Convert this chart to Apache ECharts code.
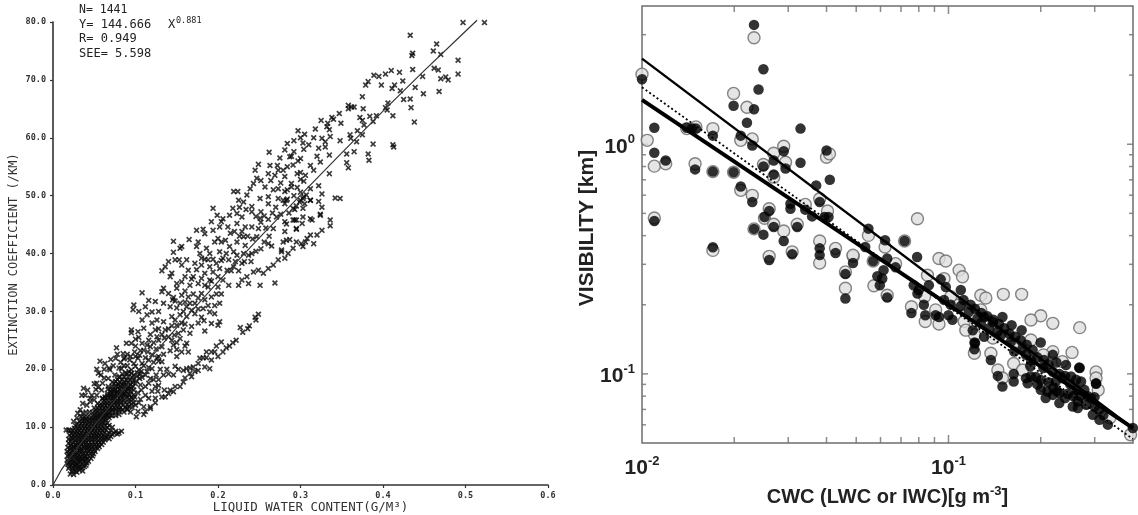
<!DOCTYPE html>
<html><head><meta charset="utf-8">
<style>html,body{margin:0;padding:0;background:#fff}#c{width:1138px;height:515px;filter:blur(0.35px)}</style>
<script src="https://cdn.jsdelivr.net/npm/echarts@6/dist/echarts.min.js"></script>
</head><body><div id="c"></div>
<script>
// ---------- left panel: extinction coefficient vs liquid water content ----------
const xTicksLeft = [0,0.1,0.2,0.3,0.4,0.5,0.6];
const fitLine = [[0,0],[0.005,1.3],[0.01,2.6],[0.02,4.6],[0.05,10.3],[0.1,19],[0.15,27.2],[0.2,35.1],[0.25,42.7],[0.3,50.1],[0.35,57.4],[0.4,64.6],[0.45,71.6],[0.5,78.4],[0.514,80.3]];
const crossUpper = [[.497,79.9],[.523,79.9],[.433,77.7],[.465,76.2],[.461,75],[.470,74.4],[.435,74.2],[.436,74.6],[.491,73.4],[.436,71.8],[.462,72],[.467,71.7],[.448,70.6],[.491,71],[.470,70.2],[.476,70.5],[.479,70],[.420,71.3],[.410,71.6],[.403,71],[.389,70.8],[.395,70.6],[.424,69.8],[.414,69.1],[.382,69.7],[.379,69.1],[.398,69.1],[.411,68.5],[.421,68.1],[.439,68.7],[.449,67.6],[.468,68],[.375,67.1],[.425,66.6],[.433,66.7],[.434,65.2],[.438,62.7],[.406,66],[.403,65.2],[.405,64.8],[.358,65.6],[.362,65.3],[.365,65.3],[.358,65],[.376,65],[.412,63.8],[.392,63.8],[.384,63.7],[.372,63.5],[.375,63],[.377,62.2],[.388,62.8],[.347,64.2],[.338,63.5],[.340,63.2],[.325,63],[.333,62.5],[.349,62.5],[.332,61.9],[.335,61.4],[.297,61.2],[.305,60.6],[.369,61.2],[.375,60.5],[.360,60.5],[.361,59.9],[.368,59.3],[.388,58.9],[.412,58.8],[.413,58.4],[.336,60.2],[.326,59.9],[.330,59.3],[.348,59.5],[.292,59.5],[.303,59.1],[.310,58.8],[.330,58.4],[.322,58.2],[.304,58],[.281,57.9],[.382,57.2],[.356,57.2],[.365,57.6],[.335,57],[.320,56.8],[.289,56.8],[.383,56.1],[.324,55.8],[.297,56],[.356,55.7],[.358,54.8],[.312,55.2],[.316,54.4],[.335,53.8],[.300,54],[.300,52.8],[.304,52.5],[.322,51.7],[.289,51.5],[.312,51.2],[.326,50.3],[.304,49.8],[.300,49.2],[.312,49.2],[.322,49],[.342,49.6],[.348,49.5],[.283,49.2],[.326,48],[.293,47.6],[.324,46.8],[.303,46.3],[.312,46],[.336,45.8],[.336,44.8],[.293,45.8],[.281,45.5],[.295,44.2],[.302,45.2]];
const crossBand = [[.262,57.5],[.275,56.5],[.287,56.7],[.300,56.4],[.263,55.2],[.249,55.4],[.245,54.4],[.273,54.4],[.279,54.4],[.291,55.3],[.261,53.8],[.269,53.5],[.281,53.3],[.289,52.1],[.247,53],[.243,52.1],[.239,51.2],[.257,51.5],[.267,51],[.273,51.2],[.219,50.7],[.224,50.7],[.235,50.1],[.281,50.7],[.225,49.2],[.231,48.9],[.251,49.5],[.261,49.8],[.261,48.6],[.273,49.5],[.279,49.2],[.281,48.6],[.241,48.1],[.194,47.8],[.252,47.2],[.241,47.2],[.199,46.6],[.223,46.9],[.229,46.3],[.251,46.1],[.271,46.3],[.261,45.9],[.192,45.5],[.204,45.5],[.223,45.2],[.233,44.6],[.241,44.6],[.249,44.3],[.194,44],[.202,44.6],[.174,44],[.182,44.2],[.184,43.4],[.229,43.8],[.267,44.3],[.281,43.8],[.283,45.1],[.295,44.3],[.231,42.9],[.247,42.9],[.215,43.5],[.200,42.6],[.204,42],[.209,42.3],[.196,42],[.146,42.1],[.165,42.4],[.156,41.2],[.154,40.9],[.146,40.2],[.176,42],[.174,41.2],[.223,42],[.233,41.4],[.261,41.7],[.265,41.3],[.279,42],[.287,42.4],[.186,40.9],[.190,40],[.202,40.3],[.178,40],[.180,39.2],[.219,40.3],[.223,39.7],[.231,40],[.237,39.7],[.241,40],[.277,40.6],[.148,38.9],[.140,38.6],[.153,38.9],[.162,38.9],[.172,38.3],[.188,38.9],[.206,39.2],[.213,38.9],[.221,38.6],[.229,38.3],[.136,37.7],[.132,37],[.144,36.6],[.142,36],[.156,38],[.164,37.1],[.180,38],[.190,37.7],[.198,38.3],[.202,37.4],[.219,37.7],[.184,36.6],[.194,36.8],[.170,36],[.180,35.7],[.190,35.4],[.200,36],[.211,37.1],[.206,35.4],[.150,34.8],[.156,35.1],[.134,34],[.184,34.5],[.213,34.5],[.166,34.5],[.176,34.8],[.303,49.5],[.299,48.9],[.307,50.1],[.312,49.2],[.305,48.6],[.303,47.8],[.295,48.2],[.291,47.8],[.295,45.8],[.314,45.8],[.324,46.6],[.291,45.8],
[.108,33.2],[.098,31.1],[.097,30.3],[.124,31.7],[.116,31.9],[.112,30.8],[.120,29.9],[.114,29.4],[.132,33.4],[.140,33.1],[.150,34],[.156,32.8],[.164,32.5],[.134,31.4],[.142,30.8],[.154,31.4],[.162,30.8],[.172,31.4],[.180,33.1],[.188,34.2],[.200,34.2],[.192,32.5],[.182,30.5],[.190,29.9],[.202,31.4],[.196,29.6],[.183,28.4],[.192,27.9],[.202,28.2],[.184,26.6],[.200,27.6],[.172,29.6],[.162,29.1],[.154,29.4],[.144,29.1],[.134,28.2],[.126,28.5],[.110,27.1],[.095,26.8],[.095,26.3],[.103,26.5],[.124,26.8],[.136,26.8],[.150,27.6],[.158,26.8],[.166,26.2],[.116,25],[.126,25.6],[.144,25],[.154,25.3],[.162,24.5],[.089,24.5],[.095,24.5],[.077,23.7],[.085,22.7],[.090,22.6],[.099,23],[.110,23.3],[.118,23.9],[.132,23.9],[.142,23.2],[.156,23],[.057,21.4],[.063,21],[.076,21.9],[.073,20.6],[.093,21.6],[.103,21.9],[.116,21.6],[.128,22.2],[.132,21.3],[.053,20],[.055,19.3],[.069,19.9],[.083,20.1],[.095,19.9],[.107,19.6],[.120,20.1],[.130,20],[.067,18.4],[.081,18.7],[.093,18.1],[.105,18.4],[.116,17.6],[.124,17],[.053,17.6],[.055,16.9],[.037,16.7],[.039,15.5],[.035,15.5],[.047,15.5],[.053,15.5],[.033,13],[.036,14.1],[.041,13.8],[.045,14.4],[.059,16.4],[.067,17],[.079,17],[.095,16.7],[.107,16.4],[.063,15.2],[.073,15.2],[.085,15.5],[.099,15.2],[.112,15.5],[.101,11.8],[.103,12.7],[.112,12.7],[.118,13.5],[.110,13.5],
[.075,19],[.088,19.4],[.100,20.5],[.112,19],[.125,19],[.072,17.8],[.086,17.4],[.100,17.5],[.112,17],[.078,16],[.090,16.4],[.103,15.9],[.070,16],[.060,17.6],[.062,18.5],[.070,21.7],[.082,21.2],[.090,20.6],[.098,21],[.108,21],[.120,22.5],[.125,23.5],[.108,24.5],[.135,25.4],[.147,25.9],[.140,27],[.128,30],[.145,32],[.160,33.5],[.170,33],[.105,22.4],[.115,23]];
const crossExtra = [[.080,20.2],[.086,20.6],[.092,19.6],[.098,19],[.104,19.9],[.110,20.6],[.116,20.3],[.122,21.2],[.128,21.4],[.134,22.6],[.126,22],[.112,22],[.100,22.2],[.094,22.2],[.086,21.8],[.100,24],[.106,23.2],[.114,24.2],[.122,24.6],[.128,25],[.132,26],[.140,25.6],[.146,24.2],[.150,24.6],[.152,26.2],[.118,26],[.128,27],[.144,27.5],[.148,28.5],[.156,28],[.160,27.8],[.168,27.4],[.176,28],[.180,29],[.168,30.2],[.176,30.4],[.158,30],[.150,30.6],[.148,31.8],[.160,31.6],[.166,31.4],[.184,32],[.188,31],[.196,31],[.204,33],[.198,33],[.176,32.3],[.192,35.2],[.168,35.6],[.160,36],[.174,37.2],[.184,39],[.194,39],[.204,38.8],[.210,40],[.214,41.2],[.216,37],[.225,37],[.232,38.6],[.240,38.6],[.246,40.4],[.252,40.8],[.256,42],[.262,43],[.258,44.4],[.252,45.4],[.242,42.5],[.236,43],[.226,43],[.220,43.8],[.212,44.6],[.206,46],[.214,46.6],[.218,47.8],[.226,48],[.234,47.6],[.246,46.4],[.256,46.5],[.266,47],[.270,48],[.276,46.8],[.286,47],[.284,49.4],[.292,50],[.300,50.6],[.296,51.4],[.284,51],[.276,52.2],[.264,52.6],[.252,52.6],[.272,55.2],[.284,55],[.296,53.8],[.306,53.5],[.292,57.6],[.284,59],[.300,60],[.316,60],[.318,61.5],
[.090,13],[.096,13.4],[.100,13.8],[.104,14.2],[.106,14.8],[.116,15],[.120,16.2],[.106,17.3],[.118,18.4],[.122,18.2],[.128,18.2],[.134,19],[.138,20],[.140,19.2],[.152,20],[.110,12.2],[.094,12.6],[.158,19.8],[.166,20.2],[.176,19.8],[.186,22],[.192,23],[.198,24],[.214,24],[.218,24.6],[.222,25],[.230,26.4],[.238,27.5],[.127,16.2],[.135,16.4],[.128,17.2],[.146,32.4],[.160,24],[.150,22.2],[.150,23.4],[.164,23],[.120,28],[.104,30],[.108,28.5],[.104,25.5],[.100,25.2],[.087,22],[.078,22.6],[.068,20.2],[.062,20],[.058,19],[.060,15],[.050,14.7],[.052,16.5],[.045,15],[.050,17.5],[.042,16.4],[.029,11.6],[.025,11],[.030,12.4],[.044,12.6],[.040,12.6],[.036,12.4]];
const crossFill = [[.023,2.3],[.027,2.4],[.031,3],[.035,2.9],[.020,3.2],[.024,3],[.028,3.5],[.032,3.2],[.036,3.6],[.040,3.4],[.019,3.9],[.023,3.8],[.027,3.7],[.031,4.1],[.035,4.4],[.039,4.3],[.043,4.1],[.020,4.5],[.024,4.4],[.028,4.6],[.032,4.5],[.036,4.5],[.040,4.9],[.044,5],[.048,5],[.019,5.3],[.023,5.2],[.027,5.3],[.031,5.2],[.035,5.2],[.039,5.1],[.043,5.9],[.047,5.8],[.051,5.8],[.020,6.1],[.024,6],[.028,6],[.032,6],[.036,5.9],[.040,5.9],[.044,6.6],[.048,6.6],[.052,6.6],[.056,6.6],[.021,6.8],[.025,6.7],[.029,6.8],[.033,6.6],[.037,6.7],[.041,6.7],[.045,7.4],[.049,7.4],[.053,7.4],[.057,7.4],[.061,7.4],[.021,7.6],[.025,7.4],[.029,7.4],[.033,7.4],[.037,7.4],[.041,7.4],[.065,8.2],[.070,8.4],[.020,8.6],[.023,8.3],[.027,8.2],[.031,8.3],[.035,8.2],[.039,8.2],[.043,8.2],[.047,8.2],[.051,8.3],[.055,8.3],[.059,8.2],[.063,8.2],[.022,8.9],[.026,9],[.030,9],[.034,9],[.038,8.9],[.042,9],[.046,9],[.050,9],[.054,9],[.058,9],[.062,9],[.068,9],[.074,9],[.080,9],[.026,9.8],[.030,9.7],[.034,9.8],[.038,9.8],[.042,9.7],[.046,9.8],[.050,9.7],[.054,9.8],[.058,9.7],[.062,9.8],[.066,9.9],[.072,10],[.030,10.6],[.034,10.6],[.038,10.6],[.042,10.5],[.046,10.6],[.050,10.5],[.054,10.6],[.058,10.5],[.062,10.7],[.066,10.7],[.036,11.4],[.040,11.4],[.044,11.3],[.048,11.4],[.052,11.4],[.056,11.4],[.060,11.4],[.064,11.6],[.068,11.6],[.072,12],[.076,12],[.080,12.2],[.050,12.1],[.054,12.1],[.058,12.1],[.062,12.1],[.066,12.2],[.052,12.9],[.056,12.9],[.060,12.9],[.064,12.9],[.068,13],[.072,13],[.076,13],[.080,13.1],[.084,13],[.090,13.2],[.056,13.7],[.060,13.7],[.064,13.7],[.068,13.7],[.072,13.8],[.076,13.8],[.080,13.8],[.085,13.8],[.090,13.9],[.095,14],[.062,14.5],[.066,14.5],[.070,14.6],[.074,14.6],[.078,14.6],[.082,14.6],[.086,14.7],[.092,14.8],[.097,14.8],[.066,15.4],[.070,15.4],[.074,15.4],[.078,15.4],[.082,15.5],[.088,15.5],[.093,15.5],[.098,15.6],[.070,16.2],[.074,16.2],[.078,16.2],[.084,16.2],[.088,16.2],[.094,16.2],[.098,16.4],[.072,17],[.076,17],[.082,17],[.087,17],[.092,17],[.097,17],[.076,17.9],[.081,17.8],[.086,17.8],[.091,17.7],[.096,17.7],[.101,18],[.080,18.6],[.086,18.7],[.091,18.7],[.096,18.6],[.102,18.8],[.108,18.6],[.084,19.2],[.090,19.2],[.095,19.3],[.102,19.4],[.106,19.2],[.114,19.6]];
const crossLowerArm = [[.326,44],[.320,43.2],[.312,43.2],[.308,42.6],[.301,41.7],[.295,42],[.303,41.2],[.291,40.9],[.285,40],[.277,40.3],[.281,39.2],[.273,38.9],[.267,38],[.261,37.4],[.255,36.6],[.249,37.1],[.243,36.8],[.235,36],[.229,35.4],[.225,34.5],[.237,34.8],[.251,34.5],[.269,34.9],[.316,41.7],[.306,42],[.283,42.3],
[.204,24.7],[.206,23],[.196,23],[.200,22.2],[.192,21.6],[.186,23],[.178,21.9],[.190,20.1],[.184,20.4],[.176,21],[.170,20.4],[.162,20.1],[.168,18.7],[.166,19.3],[.158,17.8],[.148,20.5],[.146,19],[.148,17],[.142,16.4],[.154,17],[.146,16.1],[.136,15.2],[.132,15.2],[.124,15],[.118,13.2],[.124,14.2],[.140,15.8],[.160,18.5],[.172,19.6],[.182,22],[.210,23.7],[.246,28.5],[.249,29.5],[.236,27],[.227,27.2],[.245,29]];
const crossBlob = [[.021,1.9],[.025,1.8],[.029,2.2],[.019,2.9],[.024,2.6],[.028,2.9],[.032,2.6],[.036,2.4],[.018,3.6],[.022,3.4],[.026,3.3],[.030,3.6],[.034,3.3],[.038,3.2],[.017,4.3],[.021,4.1],[.025,4],[.029,4.3],[.033,4],[.037,4.1],[.041,3.8],[.018,5],[.022,4.8],[.026,5],[.030,4.8],[.034,4.9],[.038,4.8],[.042,4.5],[.046,4.6],[.017,5.8],[.021,5.5],[.025,5.7],[.029,5.5],[.033,5.7],[.037,5.5],[.041,5.5],[.045,5.5],[.049,5.4],[.018,6.5],[.022,6.3],[.026,6.5],[.030,6.4],[.034,6.2],[.038,6.5],[.042,6.3],[.046,6.2],[.050,6.1],[.054,6.3],[.019,7.2],[.023,7],[.027,6.9],[.031,7.2],[.035,7],[.039,7.1],[.043,6.9],[.047,6.9],[.051,7],[.055,6.9],[.059,7],[.019,7.9],[.023,8],[.027,7.7],[.031,7.9],[.035,7.8],[.039,7.7],[.043,7.8],[.047,7.8],[.051,7.9],[.055,7.7],[.059,7.8],[.063,7.8],[.068,8],[.016,9.5],[.021,9.4],[.025,8.6],[.029,8.6],[.033,8.7],[.037,8.5],[.041,8.6],[.045,8.6],[.049,8.6],[.053,8.5],[.057,8.6],[.061,8.6],[.066,8.7],[.072,8.7],[.078,8.8],[.083,9.3],[.019,9.5],[.024,9.4],[.028,9.3],[.032,9.4],[.036,9.4],[.040,9.3],[.044,9.4],[.048,9.4],[.052,9.3],[.056,9.4],[.060,9.4],[.064,9.5],[.070,9.4],[.076,9.3],[.027,10.3],[.031,10.1],[.035,10.2],[.039,10.2],[.043,10.1],[.047,10.2],[.051,10.1],[.055,10.2],[.059,10.1],[.063,10.3],[.068,10.3],[.032,11],[.036,11],[.040,11],[.044,10.9],[.048,11],[.052,11],[.056,11],[.060,10.9],[.064,11.2],[.034,11.8],[.038,11.7],[.042,11.8],[.046,11.7],[.050,11.7],[.054,11.7],[.058,11.8],[.062,11.8],[.066,11.9],[.070,12],[.048,12.5],[.052,12.5],[.056,12.4],[.060,12.5],[.064,12.5],[.068,12.6],[.072,12.7],[.076,12.5],[.080,12.7],[.086,12.6],[.050,13.3],[.054,13.3],[.058,13.3],[.062,13.3],[.066,13.3],[.070,13.4],[.074,13.3],[.078,13.5],[.082,13.4],[.088,13.4],[.092,13.6],[.054,14.1],[.058,14],[.062,14.1],[.066,14.1],[.070,14.1],[.074,14.2],[.078,14.2],[.082,14.2],[.087,14.3],[.092,14.4],[.098,14.2],[.060,14.9],[.064,15],[.068,15.2],[.072,15],[.076,15],[.080,15],[.084,15.1],[.090,15.2],[.095,15.1],[.066,15.8],[.070,15.7],[.074,15.8],[.079,15.7],[.083,15.9],[.087,15.8],[.092,15.7],[.067,16.6],[.072,16.6],[.076,16.5],[.081,16.5],[.086,16.6],[.091,16.6],[.074,17.5],[.079,17.4],[.084,17.3],[.089,17.2],[.094,17.3],[.078,18.2],[.084,18.2],[.089,18.1],[.097,18.2]];
const xTicksRightMinor = [.02,.03,.04,.05,.06,.07,.08,.09,.2,.3];
const yTicksRightMinor = [.06,.07,.08,.09,.2,.3,.4,.5,.6,.7,.8,.9,2,3];
const yTicksRightMajor = [.1,1];
const xTicksRightMajor = [.1];
// ---------- right panel: visibility vs cloud water content ----------
const lineUpper = [[.01,2.36],[.4,.058]];
const lineLower = [[.01,1.56],[.4,.058]];
const lineDotted = [[.01,1.77],[.4,.052]];
const grayPoints = [[.0232,2.91],[.01,2.02],[.0199,1.665],[.022,1.45],[.0104,1.04],[.01097,.803],[.01195,.822],[.01097,.477],[.015,1.19],[.014,1.17],[.01703,1.17],[.0149,.822],[.01703,.76],[.0199,.755],[.021,1.04],[.0229,1.055],[.029,.98],[.0269,.914],[.0249,.816],[.0294,.835],[.04,.878],[.0409,.908],[.0269,.719],[.021,.63],[.0229,.599],[.026,.524],[.0251,.476],[.0232,.428],[.0269,.448],[.029,.419],[.0321,.448],[.0341,.547],[.038,.579],[.0403,.512],[.038,.379],[.038,.304],[.0428,.352],[.0309,.34],[.026,.325],[.01703,.345],[.0489,.325],[.0488,.329],[.0461,.278],[.0461,.236],
[.0792,.474],[.0719,.379],[.0548,.401],[.0621,.357],[.0931,.318],[.098,.31],[.1083,.283],[.1111,.265],[.1275,.22],[.1324,.214],[.151,.222],[.1733,.222],[.0568,.31],[.0672,.302],[.0571,.242],[.0631,.22],[.0757,.196],[.084,.169],[.0931,.165],[.0836,.217],[.0908,.19],[.0854,.269],[.0967,.26],[.1017,.217],[.1083,.2],[.1125,.169],[.1216,.148],[.1215,.123],[.2,.179],[.219,.166],[.268,.159],[.253,.124],[.303,.102],[.303,.096],[.308,.085],[.1375,.123],[.1449,.104],[.15,.096],[.1632,.111],[.1745,.104],[.219,.125],[.3363,.0644],[.3926,.0543],[.1858,.1405],[.204,.121],[.2352,.1131],[.204,.0888],[.2142,.0866],[.2642,.0797],[.2847,.0748],[.1275,.19],[.1139,.155],[.1396,.1434],[.154,.1455],[.166,.1337],[.1858,.1716]];
const blackPoints = [[.0232,3.31],[.0249,2.12],[.024,1.73],[.01,1.92],[.0199,1.47],[.0232,1.42],[.022,1.24],[.01097,1.18],[.01097,.918],[.01195,.85],[.01097,.463],[.014,1.18],[.01454,1.17],[.015,1.17],[.01703,1.09],[.0149,.777],[.01703,.76],[.0199,.755],[.021,1.09],[.0229,.987],[.0329,1.17],[.029,.932],[.0269,.85],[.0249,.8],[.0294,.784],[.0329,.83],[.04,.939],[.037,.662],[.041,.7],[.0269,.739],[.021,.655],[.0229,.56],[.026,.512],[.0251,.482],[.0232,.428],[.0269,.436],[.0249,.404],[.029,.379],[.0321,.436],[.0305,.551],[.0305,.524],[.0341,.519],[.0359,.485],[.038,.56],[.0394,.482],[.0406,.482],[.038,.352],[.038,.329],[.0428,.336],[.0309,.332],[.026,.313],[.01703,.356],[.0488,.304],[.0461,.272],[.0461,.213],
[.0719,.379],[.0548,.429],[.0621,.382],[.079,.323],[.0568,.31],[.0672,.291],[.0614,.283],[.0586,.266],[.0608,.26],[.0597,.243],[.0631,.215],[.0631,.318],[.0535,.357],[.0757,.184],[.084,.18],[.0931,.177],[.0831,.2],[.0792,.224],[.08,.232],[.077,.243],[.0908,.18],[.0863,.243],[.0943,.258],[.098,.239],[.0967,.21],[.1017,.2],[.1,.18],[.103,.172],[.1097,.232],[.1216,.137],[.1215,.128],[.1243,.1745],[.1307,.177],[.1275,.166],[.1357,.158],[.1221,.136],[.1396,.168],[.1165,.186],[.1097,.197],[.12,.155],[.15,.177],[.1607,.163],[.1733,.155],[.2,.137],[.219,.121],[.2418,.1094],[.268,.106],[.303,.091],[.2995,.0792],[.267,.1065],[.303,.0905],[.1375,.115],[.1449,.098],[.15,.088],[.1632,.0998],[.1632,.0926],[.1849,.108],[.179,.0958],[.1858,.0974],[.193,.0968],[.1813,.0911],[.204,.106],[.219,.102],[.23,.0998],[.2352,.0958],[.2237,.0926],[.2,.0852],[.2104,.0838],[.2076,.0785],[.23,.0825],[.23,.0746],[.2402,.0785],[.219,.081],[.2512,.0974],[.2608,.0942],[.2707,.0926],[.2776,.0852],[.2544,.0721],[.2642,.071],[.2642,.0758],[.2812,.0734],[.2958,.0664],[.3109,.0631],[.3311,.0601],[.3995,.0581],[.1307,.1452],[.1445,.1526],[.1483,.1477],[.1598,.138],[.1639,.125],[.1745,.1293],[.1882,.1271],[.179,.121],
[.112,.21],[.118,.2],[.122,.192],[.128,.184],[.134,.178],[.14,.172],[.146,.165],[.152,.158],[.158,.15],[.165,.145],[.172,.14],[.18,.134],[.186,.115],[.195,.118],[.205,.115],[.212,.11],[.225,.112],[.24,.098],[.25,.09],[.262,.085],[.245,.082],[.255,.08],[.27,.08],[.285,.08],[.292,.078],[.3,.072],[.31,.07],[.32,.066],[.2,.094],[.212,.092],[.22,.087],[.226,.084],[.195,.09]];

const crossSymbol = 'path://M2 0L5 3L8 0L10 2L7 5L10 8L8 10L5 7L2 10L0 8L3 5L0 2Z';
const mono = '"DejaVu Sans Mono"';
const sans = '"Liberation Sans"';
const axisGray = '#6e6e6e';
const leftLine = {lineStyle:{color:'#333',width:1.6}};

function tickSeries(data, size, offset){
  return {type:'scatter',xAxisIndex:1,yAxisIndex:1,silent:true,clip:false,z:1,symbol:'rect',symbolSize:size,symbolOffset:offset,
    itemStyle:{color:axisGray},data:data};
}
function powerLabel(v){
  const e = Math.log10(v), r = Math.round(e);
  if (Math.abs(e-r) > 1e-6) return '';
  return '{b|10}{s|'+r+'}';
}
const powerRich = {b:{fontFamily:sans,fontWeight:'bold',fontSize:21,color:'#222',padding:[5,0,0,0]},
                   s:{fontFamily:sans,fontWeight:'bold',fontSize:13,color:'#222',padding:[0,0,9,0]}};
function crossSeries(name,data){
  return {name:name,type:'scatter',xAxisIndex:0,yAxisIndex:0,silent:true,symbol:crossSymbol,symbolSize:6,itemStyle:{color:'#0a0a0a'},data:data};
}

const chart = echarts.init(document.getElementById('c'),null,{renderer:'canvas'});
chart.setOption({
  animation:false,
  backgroundColor:'#fff',
  grid:[
    {left:53,top:22,width:495,height:463,outerBoundsMode:'none'},
    {left:642,top:6,width:491,height:437,outerBoundsMode:'none',show:true,borderColor:axisGray,borderWidth:1.5,backgroundColor:'transparent'}
  ],
  xAxis:[
    {gridIndex:0,type:'value',min:0,max:0.6,interval:0.1,
     axisLine:{show:true,onZero:false,...leftLine},axisTick:{show:true,length:3,lineStyle:{color:'#333',width:1.2}},splitLine:{show:false},
     axisLabel:{margin:6,fontFamily:mono,fontWeight:'bold',fontSize:8.5,color:'#333',formatter:v=>v.toFixed(1)},
     name:'LIQUID WATER CONTENT(G/M\u00b3)',nameLocation:'middle',nameGap:16,nameMoveOverlap:false,
     nameTextStyle:{fontFamily:mono,fontSize:12.5,color:'#333',padding:[0,0,0,20]}},
    {gridIndex:1,type:'log',logBase:10,min:0.01,max:0.4,
     axisLine:{show:false},axisTick:{show:false},splitLine:{show:false},minorTick:{show:false},minorSplitLine:{show:false},
     axisLabel:{margin:10,formatter:powerLabel,rich:powerRich,showMinLabel:true,showMaxLabel:true,hideOverlap:false},
     name:'{n|CWC (LWC or IWC)[g m}{m|-3}{n|]}',nameLocation:'middle',nameGap:40,nameMoveOverlap:false,
     nameTextStyle:{rich:{n:{fontFamily:sans,fontWeight:'bold',fontSize:20,color:'#222',padding:[4,0,0,0]},
                          m:{fontFamily:sans,fontWeight:'bold',fontSize:13,color:'#222',padding:[0,0,8,0]}}}}
  ],
  yAxis:[
    {gridIndex:0,type:'value',min:0,max:80,interval:10,
     axisLine:{show:true,onZero:false,...leftLine},axisTick:{show:true,length:3,lineStyle:{color:'#333',width:1.2}},splitLine:{show:false},
     axisLabel:{margin:7,fontFamily:mono,fontWeight:'bold',fontSize:8.5,color:'#333',formatter:v=>v.toFixed(1)},
     name:'EXTINCTION COEFFICIENT (/KM)',nameLocation:'middle',nameGap:33,nameMoveOverlap:false,
     nameTextStyle:{fontFamily:mono,fontSize:12,color:'#333',padding:[0,2,0,0]}},
    {gridIndex:1,type:'log',logBase:10,min:0.05,max:4,
     axisLine:{show:false},axisTick:{show:false},splitLine:{show:false},minorTick:{show:false},minorSplitLine:{show:false},
     axisLabel:{margin:7,formatter:powerLabel,rich:powerRich,showMinLabel:false,showMaxLabel:false,hideOverlap:false},
     name:'VISIBILITY [km]',nameLocation:'middle',nameGap:44,nameMoveOverlap:false,
     nameTextStyle:{fontFamily:sans,fontWeight:'bold',fontSize:21,color:'#222',padding:[0,7,0,0]}}
  ],
  graphic:[
    {type:'text',left:79,top:4,style:{text:'N= 1441',font:'11.5px '+mono,fill:'#222'}},
    {type:'text',left:79,top:19,style:{text:'Y= 144.666',font:'12px '+mono,fill:'#222'}},
    {type:'text',left:168,top:19,style:{text:'X',font:'12px '+mono,fill:'#222'}},
    {type:'text',left:176,top:16,style:{text:'0.881',font:'8.5px '+mono,fill:'#222'}},
    {type:'text',left:79,top:33,style:{text:'R= 0.949',font:'12px '+mono,fill:'#222'}},
    {type:'text',left:79,top:48,style:{text:'SEE= 5.598',font:'12px '+mono,fill:'#222'}}
  ],
  series:[
    crossSeries('dense',crossBlob),
    crossSeries('fill',crossFill),
    crossSeries('band',crossBand),
    crossSeries('extra',crossExtra),
    crossSeries('arm',crossLowerArm),
    crossSeries('upper',crossUpper),
    {name:'fit',type:'line',xAxisIndex:0,yAxisIndex:0,silent:true,showSymbol:false,symbol:'none',smooth:false,clip:false,lineStyle:{color:'#333',width:1.2},data:fitLine},

    tickSeries(xTicksRightMinor.map(v=>[v,0.05]),[1.5,6],[0,-3]),
    tickSeries(xTicksRightMinor.map(v=>[v,4]),[1.5,6],[0,3]),
    tickSeries(xTicksRightMajor.map(v=>[v,0.05]),[1.5,8],[0,-4]),
    tickSeries(xTicksRightMajor.map(v=>[v,4]),[1.5,8],[0,4]),
    tickSeries(yTicksRightMinor.map(v=>[0.01,v]),[4,1.5],[2,0]),
    tickSeries(yTicksRightMinor.map(v=>[0.4,v]),[4,1.5],[-2,0]),
    tickSeries(yTicksRightMajor.map(v=>[0.01,v]),[6,1.5],[3,0]),
    tickSeries(yTicksRightMajor.map(v=>[0.4,v]),[6,1.5],[-3,0]),

    {name:'gray',type:'scatter',xAxisIndex:1,yAxisIndex:1,silent:true,clip:false,symbol:'circle',symbolSize:12,z:2,
     itemStyle:{color:'#dedede',borderColor:'#666',borderWidth:1.4},data:grayPoints},
    {name:'black',type:'scatter',xAxisIndex:1,yAxisIndex:1,silent:true,clip:false,symbol:'circle',symbolSize:10.5,z:3,
     itemStyle:{color:'#000'},data:blackPoints},
    {name:'upperFit',type:'line',xAxisIndex:1,yAxisIndex:1,silent:true,symbol:'none',z:4,lineStyle:{color:'#000',width:2.4},data:lineUpper},
    {name:'dottedFit',type:'line',xAxisIndex:1,yAxisIndex:1,silent:true,symbol:'none',z:4,lineStyle:{color:'#000',width:1.8,type:[2,2.5]},data:lineDotted},
    {name:'lowerFit',type:'line',xAxisIndex:1,yAxisIndex:1,silent:true,symbol:'none',z:4,lineStyle:{color:'#000',width:4},data:lineLower}
  ]
});
</script></body></html>
